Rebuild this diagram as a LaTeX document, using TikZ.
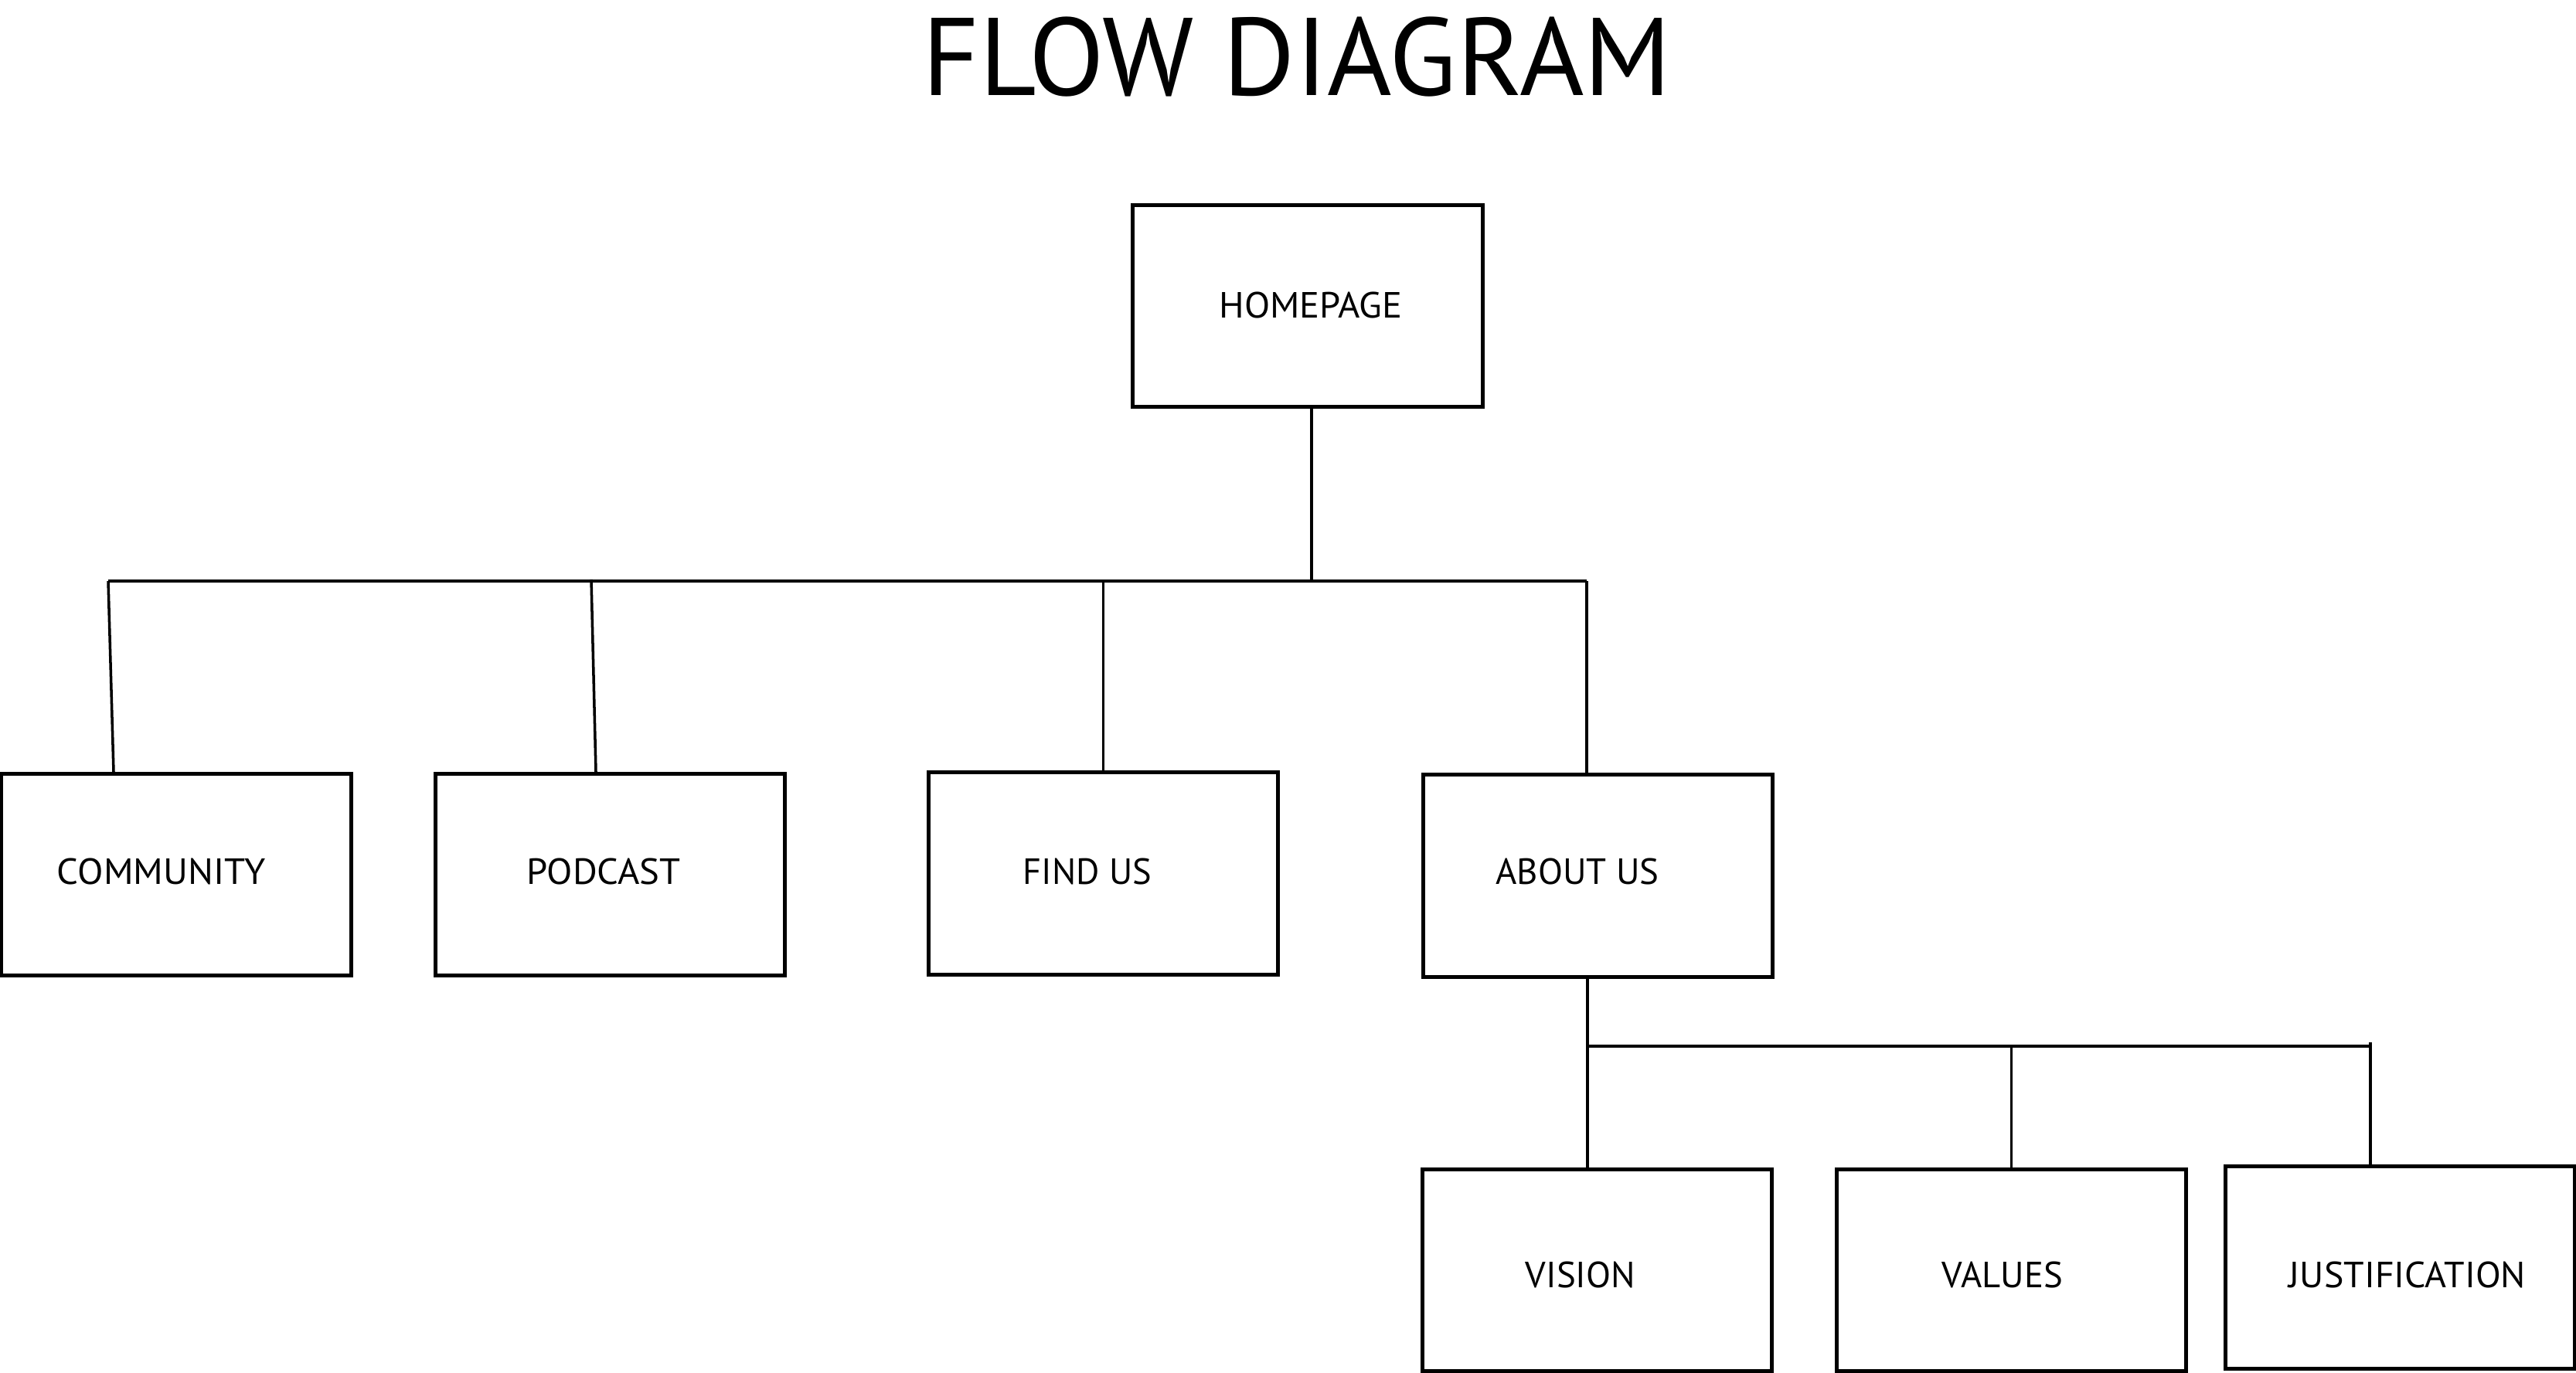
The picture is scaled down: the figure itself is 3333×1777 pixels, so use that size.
\documentclass[tikz,border=0pt]{standalone}
\usepackage{fontspec}
\usepackage{graphicx}
\setmainfont{PT Sans}
\usetikzlibrary{calc}
\newcommand{\fitw}[2]{\resizebox{#1}{\height}{#2}}
\begin{document}
\begin{tikzpicture}[x=0.01cm,y=-0.01cm,
  box/.style={draw=black,line width=1.4pt,rectangle,inner sep=0pt,minimum width=4.51cm,minimum height=2.61cm},
  lbl/.style={inner sep=0pt,anchor=base,font=\fontsize{13.4pt}{14pt}\selectfont},
  conn/.style={line width=1.0pt,black},
  bus/.style={line width=1.4pt,black}]
\useasboundingbox (0,0) rectangle (3333,1777);
% title
\node[inner sep=0pt,anchor=base,font=\fontsize{40.6pt}{44pt}\selectfont] (title) at (1678,124) {\fitw{9.69cm}{FLOW DIAGRAM}};
% boxes
\node[box,minimum width=4.52cm,minimum height=2.60cm] (home) at (1692,396) {};
\node[box,minimum width=4.52cm] (comm) at (228,1132) {};
\node[box] (pod) at (789.5,1132) {};
\node[box] (find) at (1427.5,1130.5) {};
\node[box] (about) at (2067.5,1133.5) {};
\node[box,minimum height=2.60cm] (vision) at (2066.5,1644) {};
\node[box,minimum height=2.60cm] (values) at (2602.5,1644) {};
\node[box] (just) at (3105.5,1640.5) {};
% labels
\node[lbl] (thome) at (1696,412) {\fitw{2.37cm}{HOMEPAGE}};
\node[lbl] (tcomm) at (209,1145) {\fitw{2.70cm}{COMMUNITY}};
\node[lbl] (tpod) at (781,1145) {\fitw{1.99cm}{PODCAST}};
\node[lbl] (tfind) at (1407,1145) {\fitw{1.66cm}{FIND US}};
\node[lbl] (tabout) at (2041,1145) {\fitw{2.11cm}{ABOUT US}};
\node[lbl] (tvision) at (2045,1666) {\fitw{1.42cm}{VISION}};
\node[lbl] (tvalues) at (2591,1666) {\fitw{1.56cm}{VALUES}};
\node[lbl] (tjust) at (3115,1666) {\fitw{3.06cm}{JUSTIFICATION}};
% bus coordinates
\coordinate (j0) at (1697,752);
\coordinate (bL) at (140,752);
\coordinate (bR) at (2053,752);
\coordinate (lL) at (2054,1354);
\coordinate (lR) at (3067,1354);
% connectors
\draw[conn] (home.south -| j0) -- (j0);
\draw[bus] (bL) -- (bR);
\draw[conn] (bL) -- ($(comm.north)+(-81,0)$);
\draw[conn] ($(pod.north)+(-24.5,-249)$) -- ($(pod.north)+(-18.5,0)$);
\draw[conn] (find.north |- bL) -- (find.north);
\draw[conn] (bR) -- (about.north -| bR);
\draw[conn] (about.south -| lL) -- (vision.north -| lL);
\draw[bus] (lL) -- (lR);
\draw[conn] (values.north |- lL) -- (values.north);
\draw[conn] ($(lR)+(0,-5)$) -- (just.north -| lR);
\end{tikzpicture}
\end{document}
